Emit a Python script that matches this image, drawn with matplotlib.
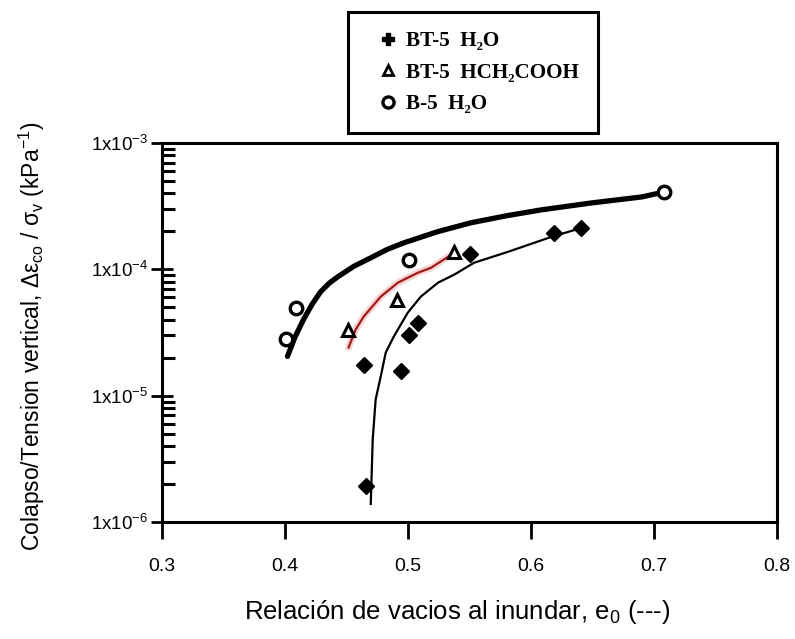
import matplotlib
matplotlib.use("Agg")
import matplotlib.pyplot as plt
from matplotlib.lines import Line2D
from matplotlib.ticker import LogLocator, NullFormatter
import numpy as np

plt.rcParams['font.family'] = ['Liberation Sans', 'DejaVu Sans']
plt.rcParams['mathtext.default'] = 'regular'

# Measured points
bt5_h2o_e0 = [0.464, 0.494, 0.501, 0.508, 0.466, 0.550, 0.619, 0.641]
bt5_h2o_c = [1.74e-5, 1.56e-5, 3.0e-5, 3.8e-5, 1.93e-6, 1.33e-4, 1.95e-4, 2.13e-4]

bt5_acid_e0 = [0.451, 0.491, 0.537]
bt5_acid_c = [3.34e-5, 5.77e-5, 1.38e-4]

b5_h2o_e0 = [0.401, 0.409, 0.501, 0.708]
b5_h2o_c = [2.79e-5, 4.99e-5, 1.19e-4, 4.1e-4]

# Trend curves
fit_b5_e0 = [0.402, 0.408, 0.415, 0.422, 0.429, 0.436, 0.443, 0.456, 0.470, 0.483, 0.497,
             0.524, 0.551, 0.580, 0.608, 0.649, 0.690, 0.708]
fit_b5_c = [2.05e-5, 2.9e-5, 4.01e-5, 5.3e-5, 6.67e-5, 7.8e-5, 8.76e-5, 1.06e-4, 1.24e-4,
            1.44e-4, 1.63e-4, 1.99e-4, 2.34e-4, 2.66e-4, 2.96e-4, 3.36e-4, 3.75e-4, 4.10e-4]

fit_bt5_e0 = [0.4697, 0.4713, 0.4737, 0.4778, 0.4819, 0.4884, 0.4998, 0.5104, 0.5243,
              0.5374, 0.5537, 0.5814, 0.6165, 0.6409]
fit_bt5_c = [1.39e-6, 4.53e-6, 9.37e-6, 1.42e-5, 2.20e-5, 2.94e-5, 4.55e-5, 6.09e-5,
             7.85e-5, 9.08e-5, 1.13e-4, 1.38e-4, 1.81e-4, 2.13e-4]

fit_acid_e0 = [0.4517, 0.4574, 0.4640, 0.4778, 0.4917, 0.5080, 0.5186, 0.5374]
fit_acid_c = [2.41e-5, 3.34e-5, 4.24e-5, 6.09e-5, 7.85e-5, 9.42e-5, 1.03e-4, 1.35e-4]

x_ticks = [0.3, 0.4, 0.5, 0.6, 0.7, 0.8]
y_ticks = [1e-6, 1e-5, 1e-4, 1e-3]
y_tick_labels = ['1x10$^{-6}$', '1x10$^{-5}$', '1x10$^{-4}$', '1x10$^{-3}$']

fig = plt.figure(figsize=(7.95, 6.39), dpi=100)
ax = fig.add_axes([0.2038, 0.183, 0.7736, 0.593])

# curves
ax.plot(fit_acid_e0, fit_acid_c, color='#f4b8b8', lw=5, alpha=0.6, solid_capstyle='round')
ax.plot(fit_acid_e0, fit_acid_c, color='#a01c1c', lw=1.6)
ax.plot(fit_bt5_e0, fit_bt5_c, color='black', lw=1.6)
ax.plot(fit_b5_e0, fit_b5_c, color='black', lw=3.8, solid_capstyle='round')

# points
ax.plot(bt5_h2o_e0, bt5_h2o_c, ls='none', marker='D', ms=8, color='black')
ax.plot(bt5_acid_e0, bt5_acid_c, ls='none', marker='^', ms=9, mfc='white', mec='black', mew=2.2)
ax.plot(b5_h2o_e0, b5_h2o_c, ls='none', marker='o', ms=9, mfc='white', mec='black', mew=2.4)

ax.set_yscale('log')
ax.set_xlim(0.3, 0.8)
ax.set_ylim(1e-6, 1e-3)
ax.set_xticks(x_ticks, labels=[f'{v:.1f}' for v in x_ticks])
ax.set_yticks(y_ticks, labels=y_tick_labels)
ax.yaxis.set_minor_locator(LogLocator(base=10, subs=np.arange(2, 10)))
ax.yaxis.set_minor_formatter(NullFormatter())

for s in ax.spines.values():
    s.set_linewidth(2.2)
ax.tick_params(axis='x', direction='out', length=12, width=2, labelsize=14, pad=14)
ax.tick_params(axis='y', which='major', direction='inout', length=16, width=2, labelsize=13.5, pad=2)
ax.tick_params(axis='y', which='minor', direction='in', length=9, width=2.2)

ax.set_xlabel('Relación de vacios al inundar, e$_0$ (---)', fontsize=18.5)
ax.xaxis.set_label_coords(0.48, -0.2)
ax.xaxis.label.set_va('top')
ax.set_ylabel('Colapso/Tension vertical, Δε$_{co}$ / σ$_v$ (kPa$^{-1}$)', fontsize=16.5)
ax.yaxis.set_label_coords(-0.211, 0.49)
ax.yaxis.label.set_va('center')

handles = [
    Line2D([], [], ls='none', marker='P', ms=9, color='black'),
    Line2D([], [], ls='none', marker='^', ms=7, mfc='white', mec='black', mew=2),
    Line2D([], [], ls='none', marker='o', ms=8, mfc='white', mec='black', mew=2.4),
]
labels = ['BT-5  H₂O', 'BT-5  HCH₂COOH', 'B-5  H₂O']
leg = fig.legend(handles, labels, loc='upper left', bbox_to_anchor=(348 / 795, 1 - 12 / 639),
                 bbox_transform=fig.transFigure, borderaxespad=0, fancybox=False,
                 edgecolor='black', framealpha=1, borderpad=0.9, handlelength=2.0,
                 handletextpad=-0.15, labelspacing=0.55,
                 prop={'family': ['Liberation Serif', 'DejaVu Serif'], 'weight': 'bold', 'size': 15.2})
leg.get_frame().set_linewidth(2.2)

fig.savefig('out.png', dpi=100)
